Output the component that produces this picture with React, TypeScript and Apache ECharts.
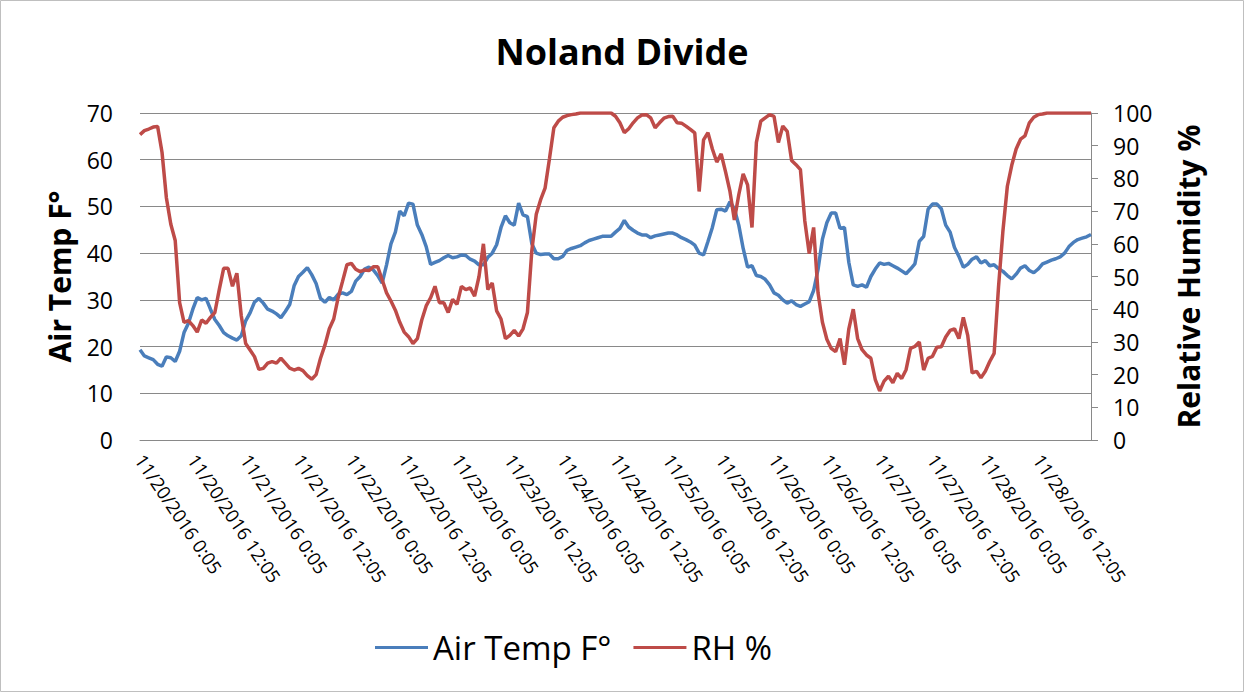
import React, { useEffect, useRef } from "react";
import * as echarts from "echarts";

// Hourly readings, 11/20/2016 0:05 through 11/29/2016 0:05
const startDay = 20;
const hoursCount = 217;
const categories: string[] = [];
for (let h = 0; h < hoursCount; h++) {
  const day = startDay + Math.floor(h / 24);
  const hr = h % 24;
  categories.push(`11/${day}/2016 ${hr}:05`);
}

const airTemp: number[] = [
  19.3, 18, 17.6, 17.2, 16.2, 15.8, 17.8, 17.6, 16.8, 19, 23, 25, 28, 30.5, 30, 30.3, 28, 25.8, 24.5, 23, 22.3, 21.8, 21.4, 22.3,
  25.5, 27.2, 29.5, 30.3, 29.3, 28, 27.6, 27, 26.2, 27.5, 29, 33, 35,
  35.9, 36.9, 35.4, 33.5, 30.3, 29.5, 30.5, 30, 31.2, 31.5, 31.1, 31.8, 34, 35, 36.6, 37, 36.4, 35.2, 33.6, 37.5, 42, 44.5, 49, 48,
  50.7, 50.5, 46, 44, 41.4, 37.6, 38, 38.4, 39, 39.5, 39, 39.2,
  39.6, 39.5, 38.7, 38.3, 37.5, 37.5, 39.1, 40, 41.8, 45.5, 48, 46.5, 46, 50.7, 48.2, 47.8, 42, 40, 39.7, 39.8, 39.8, 38.8, 38.8, 39.3,
  40.6, 41, 41.3, 41.6, 42.2, 42.7, 43, 43.3, 43.6, 43.6, 43.6, 44.5,
  45.3, 47, 45.6, 44.9, 44.3, 43.9, 43.9, 43.3, 43.7, 43.9, 44.1, 44.3, 44.3, 43.9, 43.3, 42.9, 42.4, 41.7, 40, 39.6, 42.5, 45.5, 49.3,
  49.4, 49, 51, 49.5, 46, 41, 37, 37.3, 35.2, 35, 34.4, 33.2, 31.5, 31,
  30, 29.3, 29.8, 29, 28.6, 29.1, 29.6, 32, 36.5, 43, 46.5, 48.6, 48.6, 45.3, 45.5, 38, 33.2, 32.9, 33.2, 32.7, 35, 36.6, 37.9, 37.6,
  37.8, 37.3, 36.8, 36.2, 35.6, 36.6, 37.7, 42.5, 43.6, 49.4, 50.5, 50.5,
  49.5, 46, 44.5, 41.2, 39.3, 37, 37.6, 38.7, 39.2, 37.9, 38.4, 37.3, 37.5, 36.7, 36.1, 35.2, 34.5, 35.5, 36.8, 37.3, 36.3, 35.8, 36.6,
  37.7, 38.1, 38.5, 38.8, 39.2, 40, 41.4, 42.3, 42.9, 43.2, 43.5, 44,
];

const relHumidity: number[] = [
  93.4, 94.6, 95.1, 95.7, 95.9, 88, 74, 66, 61, 42, 36, 36.5, 35, 33, 36.7, 35.7, 37.5, 39, 46, 52.5, 52.5, 47, 51, 38,
  29.5, 27.5, 25.5, 21.6, 21.9, 23.5, 24, 23.5, 25, 23.5, 22, 21.4, 21.9,
  21.2, 19.7, 18.6, 20, 25, 29, 34, 37, 43.5, 48.5, 53.6, 54, 52.2, 51.5, 52, 51.8, 53, 53, 49, 45, 42.5, 39.7, 36, 33,
  31.6, 29.5, 31, 36.7, 41, 43.5, 47, 42, 42, 39, 43, 41.5,
  47, 46, 46.5, 44, 50, 60, 46, 48, 39.5, 37, 31, 32, 33.5, 31.8, 34, 39, 58, 69, 73.5, 77, 86, 95.5, 97.5, 98.7,
  99.2, 99.5, 99.7, 100, 100, 100, 100, 100, 100, 100, 100, 99,
  97, 94, 95.2, 97, 98.5, 99.4, 99.5, 98.5, 95.5, 97, 98.4, 98.9, 99, 97, 96.9, 96, 95, 93.9, 76, 91.8, 94, 89, 85,
  87.5, 82, 76, 67.3, 75, 81.4, 78, 65, 91, 97.5, 98.5, 99.5, 99, 91,
  96, 94.4, 85.5, 84.2, 82.7, 67, 57, 65, 45, 36, 30.8, 28, 27, 31, 23, 34, 40, 31, 27.6, 26, 25, 18.5, 15, 18,
  19.5, 17.5, 20.4, 18.8, 21.5, 28, 28.6, 30, 21.4, 25, 25.6, 28.4,
  28.5, 31.5, 33.5, 34, 31, 37.5, 32, 20.5, 21, 19, 21, 24, 26.5, 46.9, 64, 77.6, 84, 89, 92, 93, 97, 98.7, 99.5,
  99.7, 100, 100, 100, 100, 100, 100, 100, 100, 100, 100, 100,
];

const tempTicks = { min: 0, max: 70, interval: 10 };
const rhTicks = { min: 0, max: 100, interval: 10 };

const FONT = "'Open Sans', 'Noto Sans', sans-serif";
const GRID_COLOR = "#898989";

export default function App() {
  const ref = useRef<HTMLDivElement>(null);

  useEffect(() => {
    if (!ref.current) return;
    const chart = echarts.init(ref.current, undefined, { renderer: "svg" });
    chart.setOption({
      animation: false,
      backgroundColor: "#ffffff",
      textStyle: { fontFamily: FONT, color: "#000" },
      title: {
        text: "Noland Divide",
        left: "center",
        top: 28,
        textStyle: { fontFamily: FONT, fontSize: 36, fontWeight: "bold", color: "#000" },
      },
      graphic: [
        {
          type: "rect",
          shape: { x: 0.5, y: 0.5, width: 1243, height: 691 },
          style: { fill: "none", stroke: "#bfbfbf", lineWidth: 1 },
          silent: true,
        },
      ],
      legend: {
        data: ["Air Temp F°", "RH %"],
        top: 626,
        left: 370,
        icon: "rect",
        itemWidth: 53,
        itemHeight: 3,
        itemGap: 22,
        textStyle: { fontFamily: FONT, fontSize: 33, color: "#000", padding: [0, 0, 0, 0] },
      },
      grid: { left: 140, right: 153, top: 113, bottom: 252, containLabel: false },
      xAxis: {
        type: "category",
        data: categories,
        boundaryGap: false,
        axisLine: { show: true, lineStyle: { color: GRID_COLOR, width: 1 } },
        axisTick: { show: false },
        axisLabel: {
          interval: (i: number) => i % 12 === 0 && i < hoursCount - 1,
          rotate: -56,
          fontFamily: FONT,
          fontSize: 18.5,
          color: "#000",
          margin: 16,
        },
        splitLine: { show: false },
      },
      yAxis: [
        {
          type: "value",
          position: "left",
          ...tempTicks,
          name: "Air Temp F°",
          nameLocation: "middle",
          nameRotate: 90,
          nameGap: 66,
          nameTextStyle: { fontFamily: FONT, fontSize: 30, fontWeight: "bold", color: "#000" },
          axisLine: { show: false },
          axisTick: { show: false },
          axisLabel: { fontFamily: FONT, fontSize: 23, color: "#000", margin: 27 },
          splitLine: { show: true, lineStyle: { color: GRID_COLOR, width: 1 } },
        },
        {
          type: "value",
          position: "right",
          ...rhTicks,
          name: "Relative Humidity %",
          nameLocation: "middle",
          nameRotate: 90,
          nameGap: 82,
          nameTextStyle: { fontFamily: FONT, fontSize: 30, fontWeight: "bold", color: "#000" },
          axisLine: { show: true, lineStyle: { color: GRID_COLOR, width: 1 } },
          axisTick: { show: true, length: 7, inside: false, lineStyle: { color: GRID_COLOR } },
          axisLabel: { fontFamily: FONT, fontSize: 23, color: "#000", margin: 22 },
          splitLine: { show: false },
        },
      ],
      series: [
        {
          name: "Air Temp F°",
          type: "line",
          yAxisIndex: 0,
          data: airTemp,
          showSymbol: false,
          symbol: "none",
          lineStyle: { color: "#4a7ebb", width: 3.5 },
          itemStyle: { color: "#4a7ebb" },
        },
        {
          name: "RH %",
          type: "line",
          yAxisIndex: 1,
          data: relHumidity,
          showSymbol: false,
          symbol: "none",
          lineStyle: { color: "#be4b48", width: 3.5 },
          itemStyle: { color: "#be4b48" },
        },
      ],
    });
    return () => chart.dispose();
  }, []);

  return (
    <div
      ref={ref}
      style={{ position: "absolute", left: 0, top: 0, width: 1244, height: 692 }}
    />
  );
}
